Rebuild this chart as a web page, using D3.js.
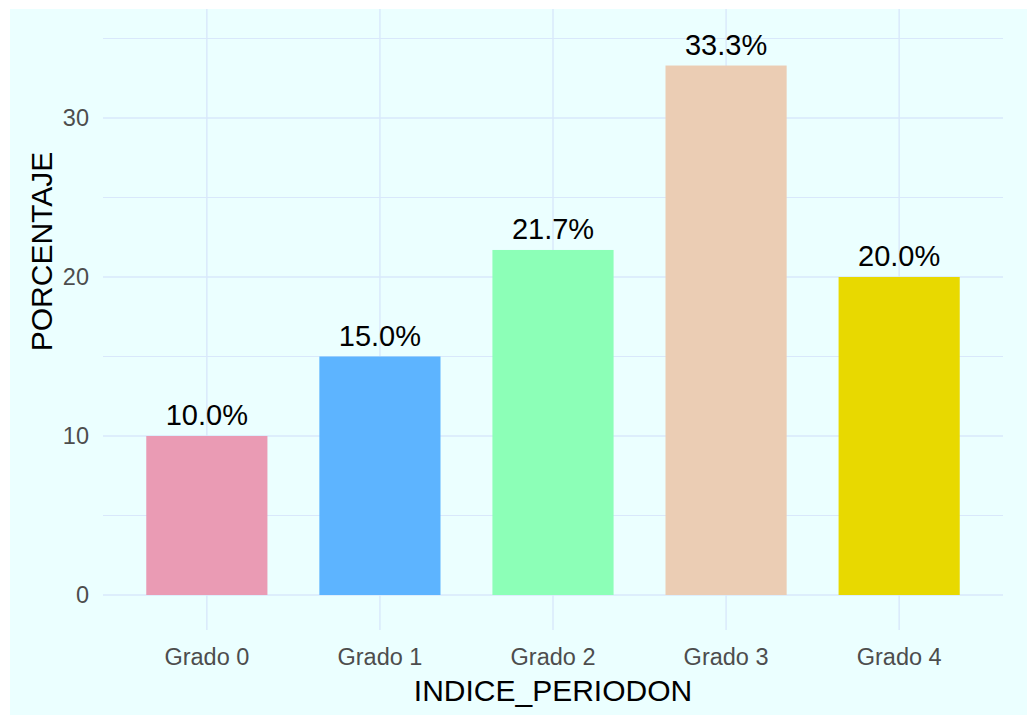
<!DOCTYPE html>
<html>
<head>
<meta charset="utf-8">
<script src="https://cdn.jsdelivr.net/npm/d3@7"></script>
<style>
  body { margin: 0; background: #ffffff; }
  svg { display: block; font-family: "Liberation Sans", Arial, sans-serif; }
</style>
</head>
<body>
<svg id="chart" width="1027" height="715"></svg>
<script>
// Datos
const grados = ["Grado 0", "Grado 1", "Grado 2", "Grado 3", "Grado 4"];
const porcentajes = [10.0, 15.0, 21.7, 33.3, 20.0];
const colores = ["#ea9bb4", "#5db4ff", "#8cffb7", "#ebcdb4", "#e8d900"];
const ticksY = [0, 10, 20, 30];
const ticksMenoresY = [5, 15, 25, 35];

const svg = d3.select("#chart");
const panel = { left: 103, right: 1003, top: 9, bottom: 630 };

// Fondo
svg.append("rect")
  .attr("x", 10).attr("y", 9)
  .attr("width", 1017).attr("height", 706)
  .attr("fill", "#ebffff");

const x = d3.scaleBand()
  .domain(grados)
  .range([panel.left, panel.right])
  .paddingInner(0.3)
  .paddingOuter(0.25);

const y = d3.scaleLinear()
  .domain([0, 35])
  .range([595, 38.5]);

const gridColor = "#d9e8fb";

// Rejilla
svg.append("g").selectAll("line.minor")
  .data(ticksMenoresY)
  .join("line")
  .attr("x1", panel.left).attr("x2", panel.right)
  .attr("y1", d => y(d)).attr("y2", d => y(d))
  .attr("stroke", gridColor).attr("stroke-width", 1);

svg.append("g").selectAll("line.major")
  .data(ticksY)
  .join("line")
  .attr("x1", panel.left).attr("x2", panel.right)
  .attr("y1", d => y(d)).attr("y2", d => y(d))
  .attr("stroke", gridColor).attr("stroke-width", 1.4);

svg.append("g").selectAll("line.vert")
  .data(grados)
  .join("line")
  .attr("x1", d => x(d) + x.bandwidth() / 2).attr("x2", d => x(d) + x.bandwidth() / 2)
  .attr("y1", panel.top).attr("y2", panel.bottom)
  .attr("stroke", gridColor).attr("stroke-width", 1.4);

// Barras
svg.append("g").selectAll("rect")
  .data(porcentajes)
  .join("rect")
  .attr("x", (d, i) => x(grados[i]))
  .attr("y", d => y(d))
  .attr("width", x.bandwidth())
  .attr("height", d => y(0) - y(d))
  .attr("fill", (d, i) => colores[i]);

// Etiquetas de barras
svg.append("g").selectAll("text")
  .data(porcentajes)
  .join("text")
  .attr("x", (d, i) => x(grados[i]) + x.bandwidth() / 2)
  .attr("y", d => y(d) - 11)
  .attr("text-anchor", "middle")
  .attr("font-size", "29px")
  .attr("fill", "#000")
  .text(d => d.toFixed(1) + "%");

// Ejes
const ejeY = svg.append("g")
  .attr("transform", `translate(${panel.left},0)`)
  .call(d3.axisLeft(y).tickValues(ticksY).tickSize(0).tickPadding(14));
ejeY.select(".domain").remove();
ejeY.selectAll("text")
  .attr("font-size", "23.5px")
  .attr("font-family", "Liberation Sans, Arial, sans-serif")
  .attr("fill", "#4d4d4d");

const ejeX = svg.append("g")
  .attr("transform", `translate(0,${panel.bottom})`)
  .call(d3.axisBottom(x).tickSize(0).tickPadding(18));
ejeX.select(".domain").remove();
ejeX.selectAll("text")
  .attr("font-size", "23.5px")
  .attr("font-family", "Liberation Sans, Arial, sans-serif")
  .attr("fill", "#4d4d4d");

// Títulos
svg.append("text")
  .attr("x", (panel.left + panel.right) / 2)
  .attr("y", 701)
  .attr("text-anchor", "middle")
  .attr("font-size", "30px")
  .attr("fill", "#000")
  .text("INDICE_PERIODON");

svg.append("text")
  .attr("transform", "translate(51.5,251.5) rotate(-90)")
  .attr("text-anchor", "middle")
  .attr("font-size", "30px")
  .attr("fill", "#000")
  .text("PORCENTAJE");
</script>
</body>
</html>
